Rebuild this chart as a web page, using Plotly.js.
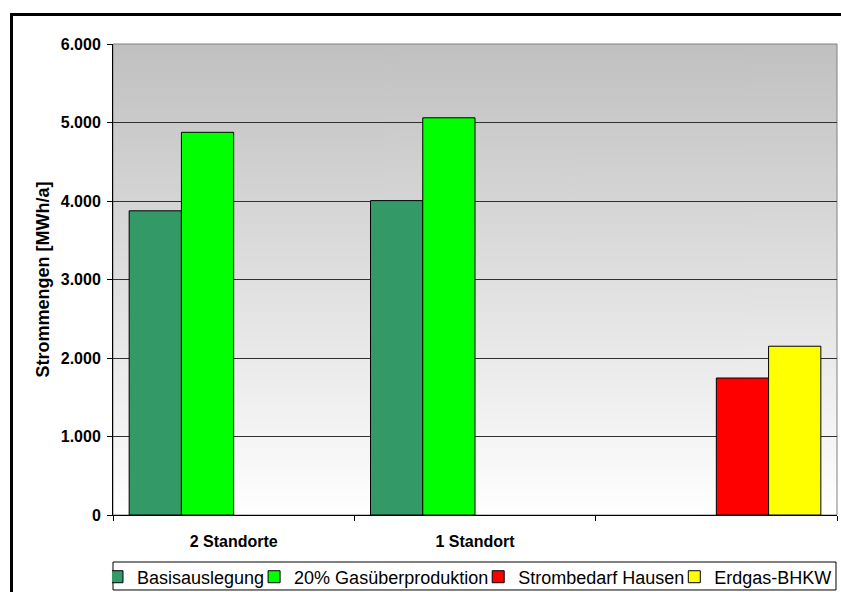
<!DOCTYPE html>
<html>
<head>
<meta charset="utf-8">
<script src="https://cdn.plot.ly/plotly-3.0.1.min.js"></script>
<style>
  html, body { margin: 0; padding: 0; background: #ffffff; overflow: hidden; }
  #wrap { position: relative; width: 841px; height: 592px; }
  #frame { position: absolute; left: 10px; top: 13px; width: 900px; height: 700px;
           border: 3px solid #000000; box-sizing: border-box; pointer-events: none; z-index: 2; }
  #chart { position: absolute; left: 0; top: 0; width: 841px; height: 592px; z-index: 1; }
</style>
</head>
<body>
<div id="wrap">
  <div id="chart"></div>
  <div id="frame"></div>
</div>
<script>
// Categories on the x axis (third group carries only the reference bars)
const categories = ['2 Standorte', '1 Standort', ' '];

// Annual electricity amounts in MWh/a per series
const basisauslegung = [3875, 4005, null];
const gasueberproduktion = [4875, 5060, null];
const strombedarfHausen = [null, null, 1745];
const erdgasBHKW = [null, null, 2150];

const seriesNames = ['Basisauslegung', '20% Gasüberproduktion', 'Strombedarf Hausen', 'Erdgas-BHKW'];
const seriesColors = ['#339966', '#00ff00', '#ff0000', '#ffff00'];
const seriesValues = [basisauslegung, gasueberproduktion, strombedarfHausen, erdgasBHKW];

const yTickValues = [0, 1000, 2000, 3000, 4000, 5000, 6000];

// Vertical grey-to-white fill for the plotting area
function gradientImage() {
  const c = document.createElement('canvas');
  c.width = 4; c.height = 256;
  const ctx = c.getContext('2d');
  const g = ctx.createLinearGradient(0, 0, 0, 256);
  g.addColorStop(0, '#c0c0c0');
  g.addColorStop(1, '#ffffff');
  ctx.fillStyle = g;
  ctx.fillRect(0, 0, 4, 256);
  return c.toDataURL('image/png');
}

const FONT = 'Liberation Sans, Arial, Helvetica, sans-serif';

const traces = seriesValues.map((vals, i) => ({
  type: 'bar',
  name: seriesNames[i],
  x: categories,
  y: vals,
  marker: { color: seriesColors[i], line: { color: '#000000', width: 1 } },
  hoverinfo: 'x+y+name'
}));

const layout = {
  width: 841,
  height: 592,
  margin: { l: 113, r: 4, t: 44, b: 77 },
  paper_bgcolor: 'rgba(0,0,0,0)',
  plot_bgcolor: 'rgba(0,0,0,0)',
  separators: ',.',
  barmode: 'group',
  bargap: 0.134,
  bargroupgap: 0,
  font: { family: FONT, color: '#000000' },
  showlegend: true,
  legend: {
    orientation: 'h',
    xref: 'container', yref: 'container',
    x: 0.5642, xanchor: 'center',
    y: 0.0253, yanchor: 'middle',
    borderwidth: 0,
    bgcolor: 'rgba(0,0,0,0)',
    indentation: -15,
    font: { family: FONT, size: 18, color: '#000000' },
    traceorder: 'normal',
    itemclick: false
  },
  xaxis: {
    type: 'category',
    categoryorder: 'array',
    categoryarray: categories,
    showline: true, linecolor: '#000000', linewidth: 1,
    ticks: 'outside', ticklen: 5, tickcolor: '#000000', tickson: 'boundaries',
    tickfont: { family: FONT, size: 16, color: '#000000', weight: 'bold' },
    ticklabelstandoff: 12,
    showgrid: false,
    zeroline: false,
    fixedrange: true
  },
  yaxis: {
    range: [0, 6000],
    tickvals: yTickValues,
    tickformat: ',d',
    showline: true, linecolor: '#000000', linewidth: 1,
    ticks: 'outside', ticklen: 5, tickcolor: '#000000',
    tickfont: { family: FONT, size: 16, color: '#000000', weight: 'bold' },
    ticklabelstandoff: 3,
    showgrid: true, gridcolor: '#303030', gridwidth: 1,
    zeroline: false,
    automargin: true,
    title: { text: 'Strommengen [MWh/a]', standoff: 6,
             font: { family: FONT, size: 18, color: '#000000', weight: 'bold' } },
    fixedrange: true
  },
  images: [{
    source: gradientImage(),
    xref: 'paper', yref: 'paper',
    x: 0, y: 1, sizex: 1, sizey: 1,
    xanchor: 'left', yanchor: 'top',
    sizing: 'stretch', layer: 'below'
  }],
  shapes: [
    // grey frame of the plotting area
    {
      type: 'rect', xref: 'paper', yref: 'paper',
      x0: 0, x1: 1, y0: 0, y1: 1,
      line: { color: '#808080', width: 1 },
      layer: 'below'
    },
    // box around the legend row
    {
      type: 'rect', xref: 'paper', yref: 'paper',
      x0: 0, x1: 0.9986, y0: -0.1592, y1: -0.0998,
      line: { color: '#000000', width: 1 },
      fillcolor: 'rgba(0,0,0,0)',
      layer: 'above'
    }
  ]
};

Plotly.newPlot('chart', traces, layout, { displayModeBar: false, staticPlot: true });
</script>
</body>
</html>
